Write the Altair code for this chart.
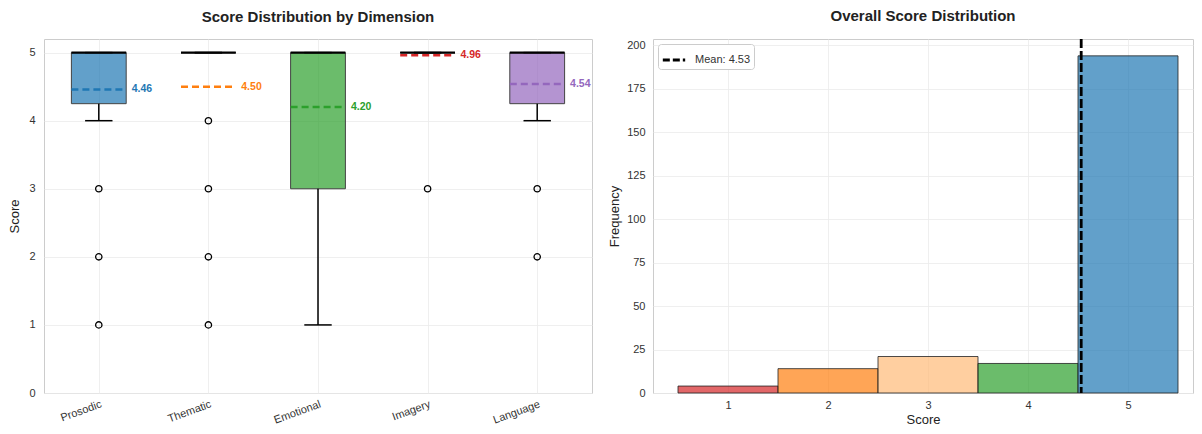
import altair as alt
import pandas as pd

# ---------------- data ----------------
dims = ["Prosodic", "Thematic", "Emotional", "Imagery", "Language"]
dim_colors = ["#1f77b4", "#ff7f0e", "#2ca02c", "#d62728", "#9467bd"]
q1 = [4.25, 5, 3, 5, 4.25]
q3 = [5, 5, 5, 5, 5]
medians = [5, 5, 5, 5, 5]
whisk_lo = [4, 5, 1, 5, 4]
whisk_hi = [5, 5, 5, 5, 5]
means = [4.46, 4.50, 4.20, 4.96, 4.54]

outlier_dims = ["Prosodic", "Prosodic", "Prosodic",
                "Thematic", "Thematic", "Thematic", "Thematic",
                "Imagery",
                "Language", "Language"]
outlier_vals = [3, 2, 1, 4, 3, 2, 1, 3, 3, 2]

scores = [1, 2, 3, 4, 5]
counts = [4, 14, 21, 17, 194]
bar_colors = ["#d62728", "#ff7f0e", "#ffbb78", "#2ca02c", "#1f77b4"]

FONT = "Liberation Sans"
LABEL_COLOR = "#333333"
TITLE_COLOR = "#222222"
PLOT_H = 354

# ---------------- left panel ----------------
box_df = pd.DataFrame({
    "dim": dims,
    "idx": list(range(1, len(dims) + 1)),
    "q1": q1, "q3": q3, "med": medians,
    "lo": whisk_lo, "hi": whisk_hi, "mean": means,
})
box_df["label"] = [f"{m:.2f}" for m in means]
idx_of = {d: i + 1 for i, d in enumerate(dims)}
out_df = pd.DataFrame({"dim": outlier_dims, "val": outlier_vals})
out_df["idx"] = [idx_of[d] for d in outlier_dims]

label_expr = "[''," + ",".join(f"'{d}'" for d in dims) + "][datum.value]"

xs = alt.Scale(domain=[0.5, 5.5], nice=False, zero=False)
ys = alt.Scale(domain=[0, 5.2], nice=False)
x_axis = alt.Axis(values=[1, 2, 3, 4, 5], labelExpr=label_expr, title=None,
                  labelAngle=-20, labelAlign="right", labelBaseline="top",
                  labelPadding=5, labelFontSize=11, labelColor=LABEL_COLOR)
y_axis = alt.Axis(values=[0, 1, 2, 3, 4, 5], format="d", title="Score", labelPadding=9,
                  titlePadding=7, labelFontSize=11, titleFontSize=13,
                  labelColor=LABEL_COLOR, titleColor=TITLE_COLOR)
col = alt.Color("dim:N", scale=alt.Scale(domain=dims, range=dim_colors), legend=None)

base = alt.Chart(box_df).transform_calculate(
    xl="datum.idx - 0.25", xr="datum.idx + 0.25",
    cl="datum.idx - 0.125", cr="datum.idx + 0.125",
    tx="datum.idx + 0.3",
)

boxes = base.mark_bar(fillOpacity=0.7, stroke="#444444", strokeWidth=1).encode(
    x=alt.X("xl:Q", scale=xs, axis=x_axis), x2="xr:Q",
    y=alt.Y("q1:Q", scale=ys, axis=y_axis), y2="q3:Q",
    fill=alt.Fill("dim:N", scale=alt.Scale(domain=dims, range=dim_colors), legend=None),
)
whisk_low = base.mark_rule(color="black", strokeWidth=1.5).encode(
    x="idx:Q", y="lo:Q", y2="q1:Q")
whisk_high = base.mark_rule(color="black", strokeWidth=1.5).encode(
    x="idx:Q", y="q3:Q", y2="hi:Q")
cap_low = base.mark_rule(color="black", strokeWidth=1.5).encode(
    x="cl:Q", x2="cr:Q", y="lo:Q")
cap_high = base.mark_rule(color="black", strokeWidth=1.5).encode(
    x="cl:Q", x2="cr:Q", y="hi:Q")
median = base.mark_rule(color="black", strokeWidth=2.2).encode(
    x="xl:Q", x2="xr:Q", y="med:Q")
mean_line = base.mark_rule(strokeWidth=2.5, strokeDash=[7, 4]).encode(
    x="xl:Q", x2="xr:Q", y="mean:Q", color=col)
mean_text = base.mark_text(align="left", baseline="middle", fontWeight="bold",
                           fontSize=10.5, font=FONT).encode(
    x="tx:Q", y="mean:Q", text="label:N", color=col)
outliers = alt.Chart(out_df).mark_point(shape="circle", filled=False, color="black",
                                        size=40, strokeWidth=1.3, opacity=1).encode(
    x="idx:Q", y="val:Q")

left = alt.layer(boxes, whisk_low, whisk_high, cap_low, cap_high, outliers,
                 median, mean_line, mean_text).properties(
    width=548, height=PLOT_H,
    title=alt.TitleParams("Score Distribution by Dimension", fontSize=15,
                          fontWeight="bold", font=FONT, offset=14, color=TITLE_COLOR),
)

# ---------------- right panel ----------------
hist_df = pd.DataFrame({"score": scores, "count": counts, "color": bar_colors})
mean_val = sum(s * c for s, c in zip(scores, counts)) / sum(counts)
mean_df = pd.DataFrame({"mean": [mean_val], "label": [f"Mean: {mean_val:.2f}"]})

hx = alt.Scale(domain=[0.25, 5.65], nice=False, zero=False)
hy = alt.Scale(domain=[0, 203.7], nice=False)

bars = alt.Chart(hist_df).transform_calculate(
    lo="datum.score - 0.5", hi="datum.score + 0.5"
).mark_bar(fillOpacity=0.7, stroke="#222222", strokeOpacity=0.8, strokeWidth=1).encode(
    x=alt.X("lo:Q", scale=hx, axis=alt.Axis(values=scores, title="Score", format="d",
                                            labelPadding=6, labelFontSize=11,
                                            titleFontSize=13, titlePadding=3,
                                            labelColor=LABEL_COLOR,
                                            titleColor=TITLE_COLOR)),
    x2="hi:Q",
    y=alt.Y("count:Q", scale=hy, axis=alt.Axis(values=list(range(0, 201, 25)),
                                               title="Frequency", labelPadding=8,
                                               titlePadding=5, labelFontSize=11,
                                               titleFontSize=13,
                                               labelColor=LABEL_COLOR,
                                               titleColor=TITLE_COLOR)),
    y2=alt.datum(0),
    fill=alt.Fill("color:N", scale=None),
)
mean_rule = alt.Chart(mean_df).mark_rule(strokeWidth=2.8, strokeDash=[9, 3]).encode(
    x="mean:Q",
    color=alt.Color("label:N", scale=alt.Scale(range=["black"]),
                    legend=alt.Legend(title=None, orient="top-left", offset=5,
                                      fillColor="white", strokeColor="#cccccc",
                                      padding=3, cornerRadius=3, labelFontSize=11,
                                      labelColor=LABEL_COLOR, labelOffset=8,
                                      symbolType="stroke", symbolStrokeWidth=2.8,
                                      symbolDash=[7, 3], symbolSize=500,
                                      labelFont=FONT)),
)
right = alt.layer(bars, mean_rule).properties(
    width=540, height=PLOT_H,
    title=alt.TitleParams("Overall Score Distribution", fontSize=15,
                          fontWeight="bold", font=FONT, offset=14, color=TITLE_COLOR),
)

chart = alt.hconcat(left, right, spacing=15).resolve_scale(
    color="independent", fill="independent"
).properties(padding=0).configure(font=FONT).configure_view(
    stroke="#cccccc", strokeWidth=1
).configure_axis(
    grid=True, gridColor="#ebebeb", gridWidth=0.8, domain=False, ticks=False,
    labelColor=LABEL_COLOR, titleColor=TITLE_COLOR, labelFont=FONT, titleFont=FONT,
    titleFontWeight="normal",
)

chart.save("out.html", embed_options={"renderer": "svg", "actions": False})
